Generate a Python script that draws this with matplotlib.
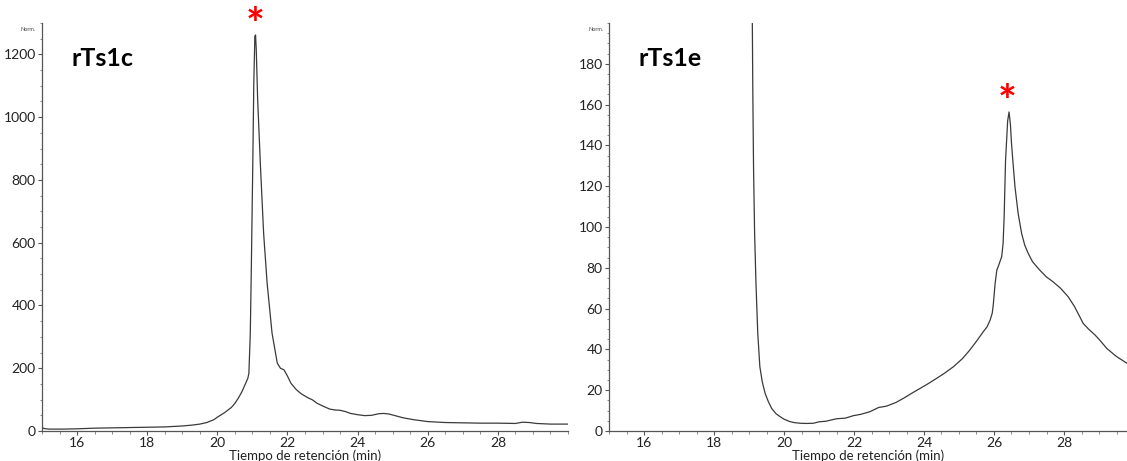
import numpy as np
import matplotlib
matplotlib.use("Agg")
import matplotlib.pyplot as plt
from matplotlib.ticker import MultipleLocator

plt.rcParams['font.family'] = ['Lato', 'DejaVu Sans']

# rTs1c chromatogram (time in min, signal Norm.)
t_c = [15.0, 15.05, 15.2, 15.6, 16.0, 16.5, 17.0, 17.5, 18.0, 18.5, 19.0, 19.3,
       19.5, 19.7, 19.9, 20.0, 20.2, 20.4, 20.5, 20.6, 20.7, 20.8, 20.87, 20.9,
       20.94, 20.97, 21.01, 21.04, 21.07, 21.09, 21.11, 21.15, 21.23, 21.32, 21.42,
       21.56, 21.71, 21.8, 21.9, 22.0, 22.1, 22.25, 22.4, 22.6, 22.7, 22.85, 23.0,
       23.2, 23.35, 23.5, 23.65, 23.8, 24.0, 24.2, 24.4, 24.6, 24.75, 24.9, 25.1,
       25.3, 25.6, 26.0, 26.5, 27.0, 27.5, 28.0, 28.5, 28.7, 28.9, 29.1, 29.5, 30.0]
v_c = [12, 8, 6, 6, 7, 9, 10, 11, 12, 13, 16, 19,
       22, 27, 36, 44, 58, 75, 88, 105, 125, 150, 168, 184,
       312, 524, 843, 1109, 1258, 1262, 1215, 1056, 843, 630, 471,
       312, 216, 200, 195, 175, 152, 132, 118, 105, 100, 88, 80,
       70, 67, 66, 62, 56, 52, 49, 50, 55, 56, 54, 48,
       42, 36, 30, 27, 26, 25, 25, 24, 28, 27, 24, 22, 22]

# rTs1e chromatogram
t_e = [19.06, 19.095, 19.11, 19.13, 19.16, 19.2, 19.25, 19.31, 19.38, 19.46, 19.55,
       19.65, 19.77, 19.89, 20.0, 20.17, 20.3, 20.46, 20.65, 20.84, 21.0, 21.2,
       21.5, 21.75, 21.98, 22.2, 22.46, 22.7, 22.93, 23.2, 23.41, 23.65, 23.89,
       24.1, 24.36, 24.6, 24.84, 25.1, 25.31, 25.5, 25.69, 25.8, 25.89, 25.95,
       25.98, 26.03, 26.08, 26.15, 26.22, 26.26, 26.29, 26.33, 26.39, 26.43,
       26.47, 26.5, 26.55, 26.6, 26.69, 26.79, 26.88, 26.98, 27.1, 27.31, 27.5,
       27.69, 27.9, 28.12, 28.3, 28.55, 28.7, 28.89, 29.05, 29.22, 29.5, 29.8]
v_e = [260, 200, 164, 129, 97, 72, 48, 31.5, 24, 18.5, 14.5,
       11, 8.5, 7, 5.8, 4.6, 4.1, 3.8, 3.7, 3.8, 4.5, 4.8,
       6.0, 6.3, 7.5, 8.2, 9.5, 11.5, 12.2, 14, 16, 18.5, 20.9,
       23, 25.8, 28.5, 31.5, 35.5, 39.7, 44, 48.6, 51, 54.4, 57.8,
       62, 72, 78.8, 82, 85.5, 92, 105, 132.7, 152, 156.4,
       150, 141, 130, 119.6, 106.6, 96.8, 91, 87, 83, 78.8, 75.5,
       73.1, 70, 65.8, 61, 52.7, 50, 47, 44, 40.5, 36.5, 33.2]

x_ticks = [16, 18, 20, 22, 24, 26, 28]
y_ticks_c = [0, 200, 400, 600, 800, 1000, 1200]
y_ticks_e = [0, 20, 40, 60, 80, 100, 120, 140, 160, 180]

line_color = '#3a3a3a'
axis_color = '#555555'

fig = plt.figure(figsize=(11.27, 4.61), dpi=100)
ax1 = fig.add_axes([42 / 1127, 30 / 461, 526 / 1127, 408 / 461])
ax2 = fig.add_axes([609 / 1127, 30 / 461, 518 / 1127, 408 / 461])

panels = [
    (ax1, t_c, v_c, (15, 30), (0, 1300), y_ticks_c, 50, 'rTs1c', (21.09, 1290)),
    (ax2, t_e, v_e, (15, 29.8), (0, 200), y_ticks_e, 5, 'rTs1e', (26.37, 161)),
]

for ax, t, v, xl, yl, yt, ymin, name, star in panels:
    ax.plot(t, v, '-', color=line_color, lw=0.9)
    ax.set_xlim(*xl)
    ax.set_ylim(*yl)
    ax.set_xticks(x_ticks)
    ax.set_yticks(yt)
    ax.xaxis.set_minor_locator(MultipleLocator(0.5))
    ax.yaxis.set_minor_locator(MultipleLocator(ymin))
    for s in ['top', 'right']:
        ax.spines[s].set_visible(False)
    for s in ['left', 'bottom']:
        ax.spines[s].set_color(axis_color)
        ax.spines[s].set_linewidth(0.9)
    ax.tick_params(axis='both', which='major', labelsize=10, length=3,
                   width=0.8, color=axis_color, labelcolor='#222222', pad=1.5)
    ax.tick_params(axis='both', which='minor', length=1.8, width=0.6,
                   color='#777777')
    ax.set_xlabel('Tiempo de retención (min)', fontsize=9.5, color='#222222',
                  labelpad=0)
    ax.text(0.056, 0.895, name, transform=ax.transAxes, fontsize=18,
            fontweight='bold', color='black', ha='left', va='baseline')
    ax.text(-0.04, 0.985, 'Norm.', transform=ax.transAxes, fontsize=4,
            color='#444444', ha='left', va='center')
    ax.text(star[0], star[1], '*', fontsize=32, fontweight='bold',
            color='#ff0000', ha='center', va='center', clip_on=False)

fig.savefig('out.png', dpi=100)
